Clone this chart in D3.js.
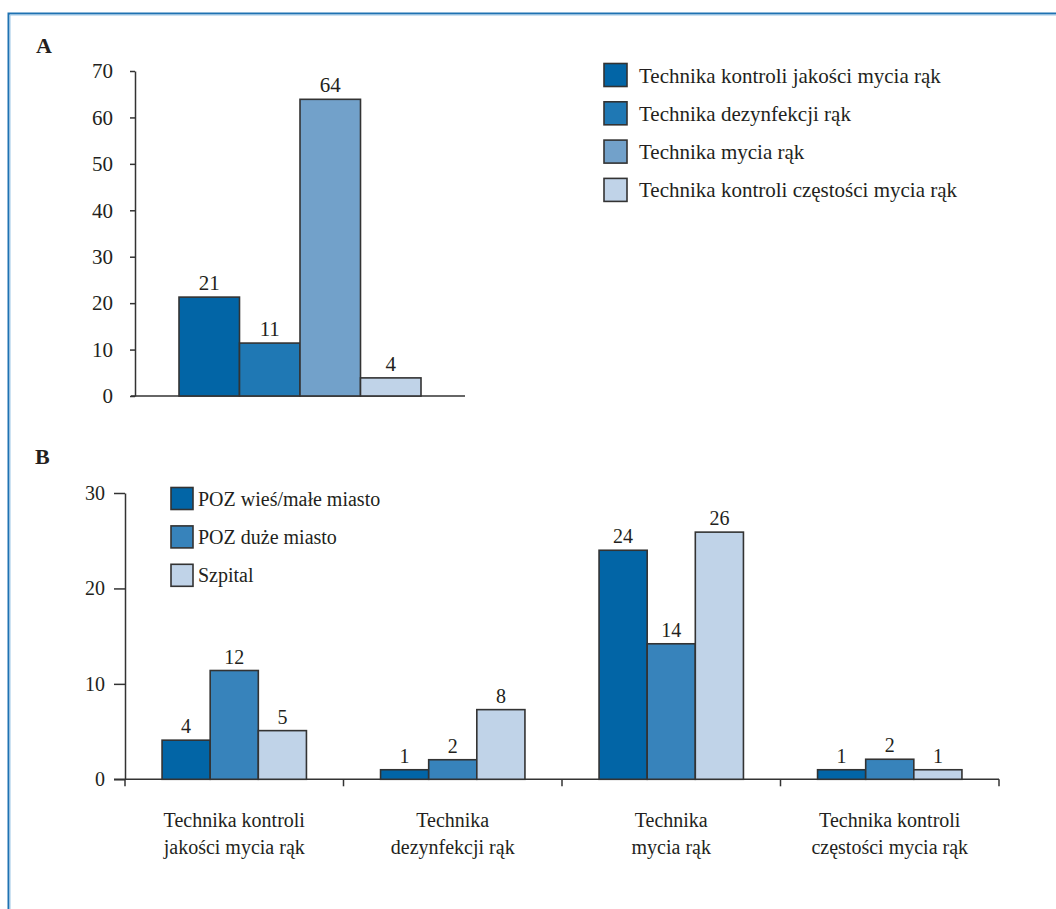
<!DOCTYPE html>
<html><head><meta charset="utf-8">
<script src="https://cdn.jsdelivr.net/npm/d3@7"></script>
<style>
body{margin:0;background:#fff}
svg{display:block}
text{font-family:"Liberation Serif","Times New Roman",serif;fill:#231f20}
</style>
</head><body>
<svg id="c" width="1056" height="909"></svg>
<script>
// ---- Data: panel A ----
const catsA = ["Technika kontroli jakości mycia rąk", "Technika dezynfekcji rąk", "Technika mycia rąk", "Technika kontroli częstości mycia rąk"];
const valuesA = [21.3, 11.4, 63.9, 3.9];
const labelsA = ["21", "11", "64", "4"];
const ticksA = [0, 10, 20, 30, 40, 50, 60, 70];
const colorsA = ["#0265a6", "#1f78b4", "#72a1ca", "#c0d3e8"];

// ---- Data: panel B ----
const catsB = [["Technika kontroli", "jakości mycia rąk"], ["Technika", "dezynfekcji rąk"], ["Technika", "mycia rąk"], ["Technika kontroli", "częstości mycia rąk"]];
const seriesB = ["POZ wieś/małe miasto", "POZ duże miasto", "Szpital"];
const wiesB = [4.1, 1.0, 24.0, 1.0];
const duzeB = [11.4, 2.05, 14.2, 2.1];
const szpitalB = [5.1, 7.3, 25.9, 1.0];
const labelsWiesB = ["4", "1", "24", "1"];
const labelsDuzeB = ["12", "2", "14", "2"];
const labelsSzpitalB = ["5", "8", "26", "1"];
const ticksB = [0, 10, 20, 30];
const colorsB = ["#0265a6", "#3783bb", "#c0d3e8"];

const svg = d3.select("#c");
const ink = "#333";

// frame
svg.append("path").attr("d", "M8.5,909 V13.5 H1056").attr("fill", "none")
  .attr("stroke", "#1f72b2").attr("stroke-width", 2);
svg.append("path").attr("d", "M10,909 V15 H1056").attr("fill", "none")
  .attr("stroke", "#9cc6e6").attr("stroke-width", 1);

// ======== Panel A ========
svg.append("text").attr("x", 36).attr("y", 53).attr("font-size", 22).attr("font-weight", "bold").text("A");

const yA = d3.scaleLinear().domain([0, 70]).range([396, 71]);
const xA = d3.scaleBand().domain(catsA).range([179, 421]).padding(0);

const gA = svg.append("g");
const axA = gA.append("g").attr("transform", "translate(135,0)")
  .call(d3.axisLeft(yA).tickValues(ticksA).tickSize(5).tickSizeOuter(0).tickPadding(17).tickFormat(d3.format("d")));
axA.selectAll("path,line").attr("stroke", ink).attr("stroke-width", 1.5);
axA.selectAll("text").attr("font-size", 21).attr("fill", "#231f20").attr("font-family", "Liberation Serif");
gA.append("line").attr("x1", 131).attr("x2", 465).attr("y1", yA(0)).attr("y2", yA(0))
  .attr("stroke", ink).attr("stroke-width", 1.5);

gA.selectAll("rect.bar").data(valuesA).join("rect").attr("class", "bar")
  .attr("x", (d, i) => xA(catsA[i]))
  .attr("y", d => yA(d))
  .attr("width", xA.bandwidth())
  .attr("height", d => yA(0) - yA(d))
  .attr("fill", (d, i) => colorsA[i])
  .attr("stroke", ink).attr("stroke-width", 1.6);

gA.selectAll("text.lbl").data(valuesA).join("text").attr("class", "lbl")
  .attr("x", (d, i) => xA(catsA[i]) + xA.bandwidth() / 2)
  .attr("y", d => yA(d) - 7)
  .attr("text-anchor", "middle").attr("font-size", 21)
  .text((d, i) => labelsA[i]);

// legend A
const legA = svg.append("g");
catsA.forEach((c, i) => {
  const y0 = 63.5 + i * 38.3;
  legA.append("rect").attr("x", 604).attr("y", y0).attr("width", 23).attr("height", 23)
    .attr("fill", colorsA[i]).attr("stroke", ink).attr("stroke-width", 1.6);
  legA.append("text").attr("x", 639).attr("y", y0 + 11.5 + 7.5).attr("font-size", 21).text(c);
});

// ======== Panel B ========
svg.append("text").attr("x", 35).attr("y", 464).attr("font-size", 22).attr("font-weight", "bold").text("B");

const yB = d3.scaleLinear().domain([0, 30]).range([779.3, 493]);
const catKeys = catsB.map(d => d.join(" "));
const x0 = d3.scaleBand().domain(catKeys).range([125, 999]).padding(0);
const x1 = d3.scaleBand().domain(seriesB).range([0, x0.bandwidth()]).paddingOuter(0.77).paddingInner(0);
const seriesVals = [wiesB, duzeB, szpitalB];
const seriesLbls = [labelsWiesB, labelsDuzeB, labelsSzpitalB];

const gB = svg.append("g");
const axB = gB.append("g").attr("transform", "translate(125,0)")
  .call(d3.axisLeft(yB).tickValues(ticksB).tickSize(11).tickSizeOuter(0).tickPadding(9).tickFormat(d3.format("d")));
axB.selectAll("path,line").attr("stroke", ink).attr("stroke-width", 1.5);
axB.selectAll("text").attr("font-size", 20).attr("fill", "#231f20").attr("font-family", "Liberation Serif");

gB.append("line").attr("x1", 114).attr("x2", 999).attr("y1", yB(0)).attr("y2", yB(0))
  .attr("stroke", ink).attr("stroke-width", 1.5);
// category separators
const seps = catKeys.map(k => x0(k)).concat([x0.range()[1]]);
gB.selectAll("line.sep").data(seps).join("line").attr("class", "sep")
  .attr("x1", d => d).attr("x2", d => d).attr("y1", yB(0)).attr("y2", yB(0) + 7)
  .attr("stroke", ink).attr("stroke-width", 1.5);

seriesB.forEach((s, si) => {
  const vals = seriesVals[si];
  gB.selectAll("rect.s" + si).data(vals).join("rect").attr("class", "s" + si)
    .attr("x", (d, i) => x0(catKeys[i]) + x1(s))
    .attr("y", d => yB(d))
    .attr("width", x1.bandwidth())
    .attr("height", d => yB(0) - yB(d))
    .attr("fill", colorsB[si])
    .attr("stroke", ink).attr("stroke-width", 1.6);
  gB.selectAll("text.l" + si).data(vals).join("text").attr("class", "l" + si)
    .attr("x", (d, i) => x0(catKeys[i]) + x1(s) + x1.bandwidth() / 2)
    .attr("y", d => yB(d) - 7)
    .attr("text-anchor", "middle").attr("font-size", 20)
    .text((d, i) => seriesLbls[si][i]);
});

// category labels
catsB.forEach((lines, i) => {
  const cx = x0(catKeys[i]) + x0.bandwidth() / 2;
  const t = gB.append("text").attr("text-anchor", "middle").attr("font-size", 20);
  lines.forEach((ln, j) => {
    t.append("tspan").attr("x", cx).attr("y", 827 + j * 26.5).text(ln);
  });
});

// legend B
const legB = svg.append("g");
seriesB.forEach((s, i) => {
  const y0 = 487.5 + i * 38.4;
  legB.append("rect").attr("x", 171).attr("y", y0).attr("width", 22).attr("height", 22)
    .attr("fill", colorsB[i]).attr("stroke", ink).attr("stroke-width", 1.6);
  legB.append("text").attr("x", 198).attr("y", y0 + 11 + 7).attr("font-size", 20).text(s);
});
</script>
</body></html>
